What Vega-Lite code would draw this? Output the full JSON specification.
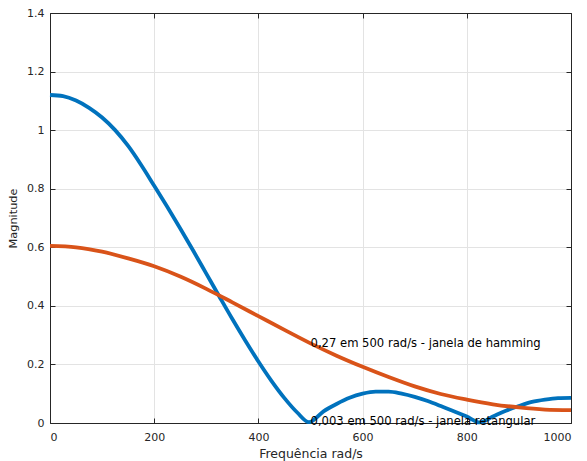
{
  "$schema": "https://vega.github.io/schema/vega-lite/v6.json",
  "autosize": "none",
  "width": 521,
  "height": 410,
  "padding": {"left": 50, "top": 13, "right": 16, "bottom": 38},
  "background": "white",
  "config": {
    "font": "DejaVu Sans",
    "view": {"stroke": null},
    "axis": {
      "labelFont": "DejaVu Sans",
      "titleFont": "DejaVu Sans",
      "labelFontSize": 11,
      "titleFontSize": 11.3,
      "titleFontWeight": "normal",
      "labelColor": "#262626",
      "titleColor": "#262626",
      "domainColor": "#262626",
      "tickColor": "#262626",
      "gridColor": "#e3e3e3",
      "gridOpacity": 1,
      "domainWidth": 1,
      "tickWidth": 1
    }
  },
  "datasets": {
    "ret": [
      {"f": 0, "m": 1.12}, {"f": 25, "m": 1.116}, {"f": 50, "m": 1.101}, {"f": 75, "m": 1.076},
      {"f": 100, "m": 1.043}, {"f": 125, "m": 1.0}, {"f": 150, "m": 0.946}, {"f": 175, "m": 0.881},
      {"f": 200, "m": 0.81}, {"f": 225, "m": 0.738}, {"f": 250, "m": 0.664}, {"f": 275, "m": 0.588},
      {"f": 300, "m": 0.51}, {"f": 325, "m": 0.432}, {"f": 350, "m": 0.355}, {"f": 375, "m": 0.281},
      {"f": 400, "m": 0.21}, {"f": 425, "m": 0.144}, {"f": 450, "m": 0.085}, {"f": 475, "m": 0.035},
      {"f": 497, "m": 0.003}, {"f": 525, "m": 0.04}, {"f": 550, "m": 0.065}, {"f": 575, "m": 0.086},
      {"f": 600, "m": 0.1}, {"f": 625, "m": 0.107}, {"f": 650, "m": 0.107}, {"f": 675, "m": 0.1},
      {"f": 700, "m": 0.089}, {"f": 725, "m": 0.075}, {"f": 750, "m": 0.058}, {"f": 775, "m": 0.04},
      {"f": 800, "m": 0.022}, {"f": 825, "m": 0.002}, {"f": 850, "m": 0.022}, {"f": 875, "m": 0.042},
      {"f": 900, "m": 0.058}, {"f": 925, "m": 0.072}, {"f": 950, "m": 0.08}, {"f": 975, "m": 0.085},
      {"f": 1000, "m": 0.086}
    ],
    "ham": [
      {"f": 0, "m": 0.605}, {"f": 50, "m": 0.6}, {"f": 100, "m": 0.585}, {"f": 150, "m": 0.562},
      {"f": 200, "m": 0.535}, {"f": 250, "m": 0.5}, {"f": 300, "m": 0.458}, {"f": 350, "m": 0.412},
      {"f": 400, "m": 0.365}, {"f": 450, "m": 0.318}, {"f": 500, "m": 0.272}, {"f": 550, "m": 0.23},
      {"f": 600, "m": 0.192}, {"f": 650, "m": 0.157}, {"f": 700, "m": 0.125}, {"f": 750, "m": 0.099},
      {"f": 800, "m": 0.08}, {"f": 850, "m": 0.064}, {"f": 900, "m": 0.053}, {"f": 950, "m": 0.046},
      {"f": 1000, "m": 0.044}
    ],
    "notes": [
      {"f": 500, "m": 0.27, "t": "0,27 em 500 rad/s - janela de hamming"},
      {"f": 500, "m": 0.003, "t": "0,003 em 500 rad/s - janela retangular"}
    ]
  },
  "layer": [
    {
      "data": {"name": "ret"},
      "mark": {"type": "line", "color": "#0072BD", "strokeWidth": 3.8, "interpolate": "monotone"},
      "encoding": {
        "x": {"field": "f", "type": "quantitative", "scale": {"domain": [0, 1000], "nice": false},
          "axis": {"orient": "bottom", "values": [0, 200, 400, 600, 800, 1000], "format": "d", "title": "Frequência rad/s",
            "titleFontSize": 12.5, "tickSize": -5, "labelPadding": 13, "titlePadding": 5, "grid": true}},
        "y": {"field": "m", "type": "quantitative", "scale": {"domain": [0, 1.4], "nice": false},
          "axis": {"orient": "left", "values": [0, 0.2, 0.4, 0.6, 0.8, 1, 1.2, 1.4], "format": "~g", "title": "Magnitude",
            "tickSize": -5, "labelPadding": 11, "titlePadding": 8, "grid": true}}
      }
    },
    {
      "data": {"name": "ham"},
      "mark": {"type": "line", "color": "#D95319", "strokeWidth": 3.8, "interpolate": "monotone"},
      "encoding": {
        "x": {"field": "f", "type": "quantitative",
          "axis": {"orient": "top", "values": [0, 200, 400, 600, 800, 1000], "labels": false, "title": null, "tickSize": -5, "grid": false}},
        "y": {"field": "m", "type": "quantitative",
          "axis": {"orient": "right", "values": [0, 0.2, 0.4, 0.6, 0.8, 1, 1.2, 1.4], "labels": false, "title": null, "tickSize": -5, "grid": false}}
      }
    },
    {
      "data": {"name": "notes"},
      "mark": {"type": "text", "align": "left", "baseline": "middle", "fontSize": 11.6, "font": "DejaVu Sans", "color": "#000000"},
      "encoding": {
        "x": {"field": "f", "type": "quantitative", "axis": null},
        "y": {"field": "m", "type": "quantitative", "axis": null},
        "text": {"field": "t"}
      }
    }
  ],
  "resolve": {"axis": {"x": "independent", "y": "independent"}}
}
